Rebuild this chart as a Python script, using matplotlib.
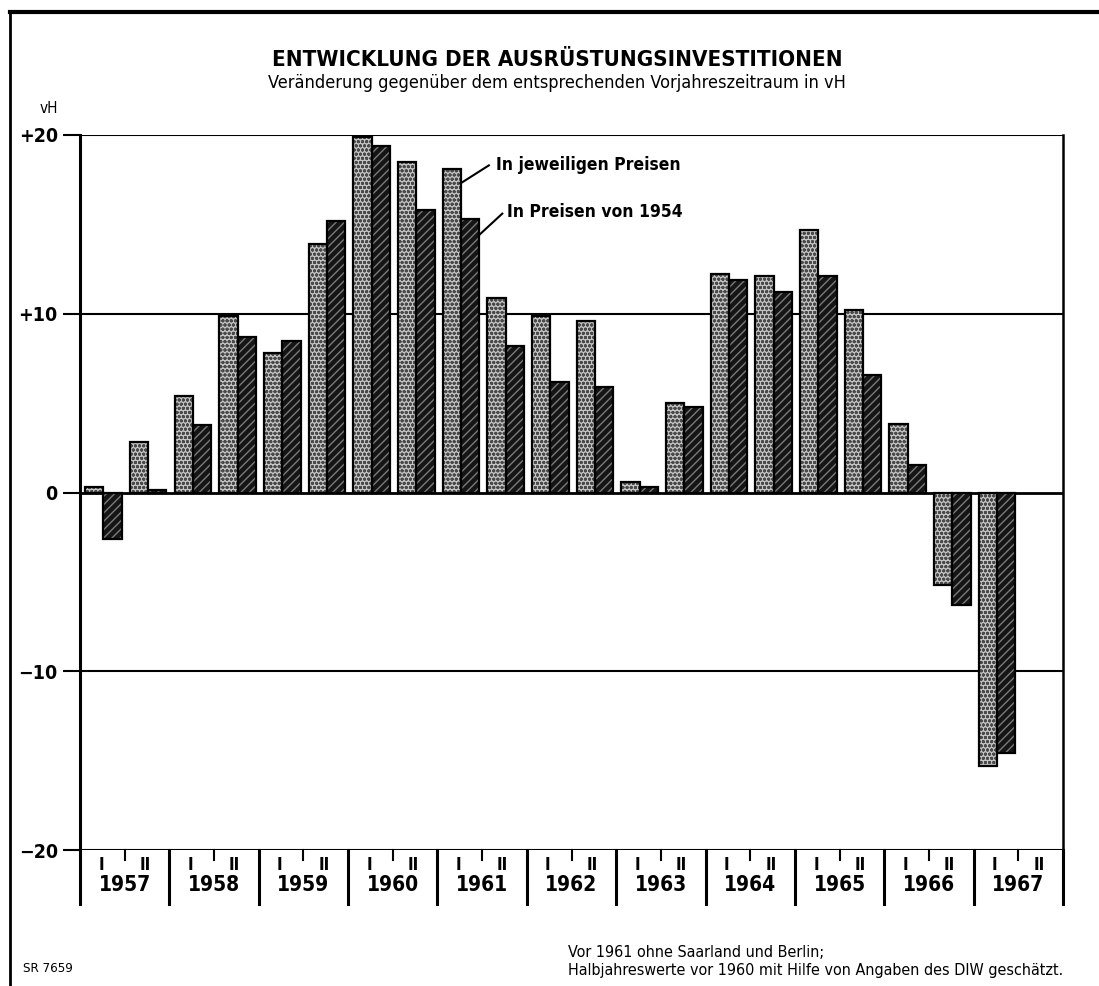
import matplotlib
matplotlib.use('agg')
import matplotlib.pyplot as plt

# +------+
# | Data |
# +------+
years = ['1957', '1958', '1959', '1960', '1961', '1962',
         '1963', '1964', '1965', '1966', '1967']
halves = ['I', 'II']
# change against same period of previous year, in vH (half-years, 1957 I .. 1967 I)
current_prices = [0.3, 2.8, 5.4, 9.85, 7.8, 13.9, 19.9, 18.5, 18.1, 10.9, 9.85,
                  9.6, 0.6, 5.0, 12.2, 12.1, 14.7, 10.2, 3.85, -5.2, -15.3]
prices_1954 = [-2.6, 0.15, 3.8, 8.7, 8.5, 15.2, 19.4, 15.8, 15.3, 8.2, 6.2,
               5.9, 0.3, 4.8, 11.9, 11.2, 12.1, 6.6, 1.55, -6.3, -14.6]
y_ticks = [20, 10, 0, -10, -20]
y_ticklabels = ['+20', '+10', '0', '\u221210', '\u221220']

plt.rcParams['font.family'] = ['DejaVu Sans']
plt.rcParams['font.stretch'] = 'condensed'

fig = plt.figure(figsize=(10.99, 9.86), dpi=100)
ax = fig.add_axes([0.0728, 0.1379, 0.8945, 0.7252])
n_slots = len(years) * 2
ax.set_xlim(0, n_slots)
ax.set_ylim(-20, 20)

# bars: hatched fill first, then outline
w = 0.41
x_light = [i + 0.32 for i in range(len(current_prices))]
x_dark = [i + 0.73 for i in range(len(prices_1954))]
ax.bar(x_light, current_prices, width=w, color='#c4c4c4', edgecolor='#4a4a4a',
       hatch='oooo', linewidth=0, zorder=3)
ax.bar(x_light, current_prices, width=w, fill=False, edgecolor='black',
       linewidth=1.6, zorder=4)
ax.bar(x_dark, prices_1954, width=w, color='#151515', edgecolor='#7a7a7a',
       hatch='////', linewidth=0, zorder=3)
ax.bar(x_dark, prices_1954, width=w, fill=False, edgecolor='black',
       linewidth=1.6, zorder=4)

# horizontal rules
for yv in y_ticks:
    ax.axhline(yv, color='black', linewidth=2.0 if yv == 0 else 1.5, zorder=2)

ax.set_yticks(y_ticks)
ax.set_yticklabels(y_ticklabels, fontsize=14, fontweight='bold')
ax.tick_params(axis='y', length=12, width=1.5, pad=4)
ax.set_xticks([])
for side in ['top', 'bottom']:
    ax.spines[side].set_visible(False)
ax.spines['left'].set_linewidth(2.2)
ax.spines['right'].set_linewidth(1.8)

# year strip below the plot
for k in range(len(years) + 1):
    ax.plot([2 * k, 2 * k], [-20, -23.0], color='black', linewidth=2.2,
            clip_on=False, zorder=5)
for k, yr in enumerate(years):
    ax.plot([2 * k + 1, 2 * k + 1], [-20, -20.55], color='black',
            linewidth=1.5, clip_on=False)
    ax.text(2 * k + 0.47, -20.85, halves[0], ha='center', va='center',
            fontsize=12, fontweight='bold')
    ax.text(2 * k + 1.46, -20.85, halves[1], ha='center', va='center',
            fontsize=12, fontweight='bold')
    ax.text(2 * k + 1, -21.95, yr, ha='center', va='center',
            fontsize=15, fontweight='bold')

# series labels
ax.plot([8.52, 9.15], [17.3, 18.3], color='black', linewidth=1.5, zorder=5)
ax.text(9.3, 18.3, 'In jeweiligen Preisen', ha='left', va='center',
        fontsize=12.5, fontweight='bold')
ax.plot([8.93, 9.45], [14.4, 15.6], color='black', linewidth=1.5, zorder=5)
ax.text(9.55, 15.7, 'In Preisen von 1954', ha='left', va='center',
        fontsize=12.5, fontweight='bold')

# titles and notes
fig.text(0.507, 0.939, 'ENTWICKLUNG DER AUSRÜSTUNGSINVESTITIONEN',
         ha='center', va='center', fontsize=16, fontweight='bold')
fig.text(0.507, 0.916,
         'Veränderung gegenüber dem entsprechenden Vorjahreszeitraum in vH',
         ha='center', va='center', fontsize=13)
fig.text(0.036, 0.890, 'vH', ha='left', va='center', fontsize=11)
fig.text(0.021, 0.018, 'SR 7659', ha='left', va='center', fontsize=9.5)
fig.text(0.517, 0.0335, 'Vor 1961 ohne Saarland und Berlin;', ha='left',
         va='center', fontsize=11.5)
fig.text(0.517, 0.0155,
         'Halbjahreswerte vor 1960 mit Hilfe von Angaben des DIW geschätzt.',
         ha='left', va='center', fontsize=11.5)

# outer frame pieces
fig.add_artist(plt.Line2D([0.009, 1.0], [0.988, 0.988], color='black',
                          linewidth=3, transform=fig.transFigure))
fig.add_artist(plt.Line2D([0.009, 0.009], [0.0, 0.988], color='black',
                          linewidth=2, transform=fig.transFigure))

fig.savefig('out.png', dpi=100)
